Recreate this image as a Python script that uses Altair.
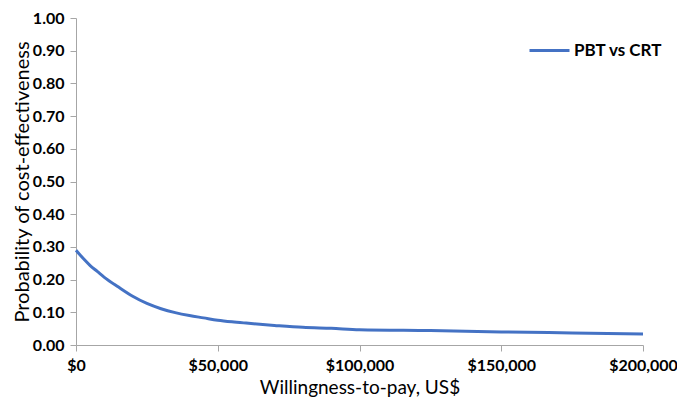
import altair as alt
import pandas as pd

wtp = [0, 2500, 5000, 7500, 10000, 15000, 20000, 25000, 30000, 35000, 40000, 45000,
       50000, 55000, 60000, 70000, 80000, 90000, 100000, 125000, 150000, 175000, 200000]
prob = [0.290, 0.265, 0.243, 0.225, 0.207, 0.177, 0.149, 0.127, 0.111, 0.099, 0.090, 0.083,
        0.076, 0.071, 0.067, 0.060, 0.054, 0.051, 0.047, 0.044, 0.040, 0.037, 0.034]
series = ["PBT vs CRT"] * len(wtp)

df = pd.DataFrame({"wtp": wtp, "prob": prob, "series": series})

FONT = "Lato"
GRAY = "#a6a6a6"

chart = alt.Chart(df).mark_line(strokeWidth=3, interpolate="monotone").encode(
    x=alt.X("wtp:Q",
            scale=alt.Scale(domain=[0, 200000], nice=False),
            axis=alt.Axis(title="Willingness-to-pay, US$", values=[0, 50000, 100000, 150000, 200000],
                          format="$,d", grid=False, labelFontWeight="bold", labelFontSize=16,
                          labelColor="#000000", labelPadding=6, titleFontSize=19,
                          titleFontWeight="normal", titleColor="#000000", titlePadding=5,
                          domainColor=GRAY, tickColor=GRAY, tickSize=6, labelFlush=False)),
    y=alt.Y("prob:Q",
            scale=alt.Scale(domain=[0, 1], nice=False),
            axis=alt.Axis(title="Probability of cost-effectiveness", values=[i / 10 for i in range(11)],
                          format=".2f", grid=False, labelFontWeight="bold", labelFontSize=16,
                          labelColor="#000000", labelPadding=6, titleFontSize=20,
                          titleFontWeight="normal", titleColor="#000000", titlePadding=0,
                          domainColor=GRAY, tickColor=GRAY, tickSize=6)),
    color=alt.Color("series:N", scale=alt.Scale(range=["#4472C4"]),
                    legend=alt.Legend(title=None, orient="none", legendX=452, legendY=11,
                                      symbolType="stroke", symbolStrokeWidth=3, symbolSize=1600,
                                      labelFontSize=17, labelFontWeight="bold",
                                      labelColor="#000000", labelFont=FONT, labelOffset=3)),
).properties(
    width=567, height=327,
    padding={"left": 68, "top": 10, "right": 34, "bottom": 53},
    autosize=alt.AutoSizeParams(type="none"),
).configure_view(stroke=None).configure_axis(labelFont=FONT, titleFont=FONT)

chart.save("out.html", embed_options={"renderer": "svg", "actions": False})
